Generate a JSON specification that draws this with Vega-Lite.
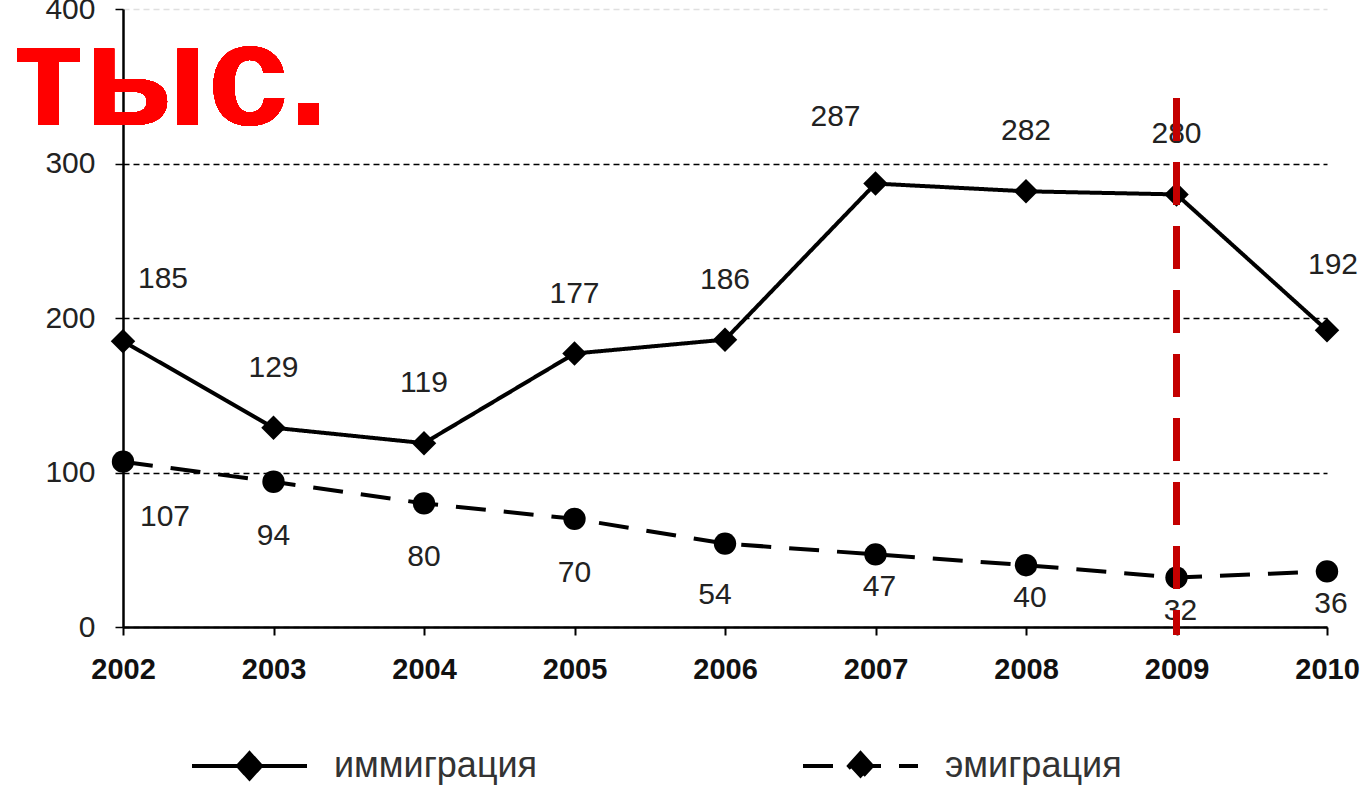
{
  "$schema": "https://vega.github.io/schema/vega-lite/v6.json",
  "width": 1204,
  "height": 618,
  "autosize": {"type": "none"},
  "padding": {"left": 123, "top": 9, "right": 33, "bottom": 158},
  "background": "white",
  "config": {"view": {"stroke": null}},
  "data": {"values": [
    {"year": 2002, "series": "иммиграция", "value": 185},
    {"year": 2003, "series": "иммиграция", "value": 129},
    {"year": 2004, "series": "иммиграция", "value": 119},
    {"year": 2005, "series": "иммиграция", "value": 177},
    {"year": 2006, "series": "иммиграция", "value": 186},
    {"year": 2007, "series": "иммиграция", "value": 287},
    {"year": 2008, "series": "иммиграция", "value": 282},
    {"year": 2009, "series": "иммиграция", "value": 280},
    {"year": 2010, "series": "иммиграция", "value": 192},
    {"year": 2002, "series": "эмиграция", "value": 107},
    {"year": 2003, "series": "эмиграция", "value": 94},
    {"year": 2004, "series": "эмиграция", "value": 80},
    {"year": 2005, "series": "эмиграция", "value": 70},
    {"year": 2006, "series": "эмиграция", "value": 54},
    {"year": 2007, "series": "эмиграция", "value": 47},
    {"year": 2008, "series": "эмиграция", "value": 40},
    {"year": 2009, "series": "эмиграция", "value": 32},
    {"year": 2010, "series": "эмиграция", "value": 36}
  ]},
  "encoding": {
    "x": {
      "field": "year", "type": "quantitative",
      "scale": {"domain": [2002, 2010], "nice": false, "zero": false},
      "axis": {
        "values": [2002, 2003, 2004, 2005, 2006, 2007, 2008, 2009, 2010],
        "format": "d", "title": null, "grid": false,
        "domainColor": "black", "domainWidth": 2.5,
        "tickColor": "black", "tickWidth": 2, "tickSize": 8,
        "labelFont": "Liberation Sans, Arial, sans-serif",
        "labelFontWeight": "bold", "labelFontSize": 29, "labelColor": "#111",
        "labelPadding": 20, "labelFlush": false
      }
    },
    "y": {
      "field": "value", "type": "quantitative",
      "scale": {"domain": [0, 400], "nice": false},
      "axis": {
        "values": [0, 100, 200, 300, 400],
        "title": null, "grid": true, "gridDash": [6, 4],
        "gridColor": {"condition": {"test": "datum.value == 400", "value": "#e0e0e0"}, "value": "black"},
        "gridWidth": 1.5,
        "domainColor": "black", "domainWidth": 2.5,
        "tickColor": "black", "tickWidth": 1.5, "tickSize": 8,
        "labelFont": "Liberation Sans, Arial, sans-serif",
        "labelFontSize": 30, "labelColor": "#222", "labelPadding": 20
      }
    }
  },
  "layer": [
    {
      "mark": {"type": "line", "color": "black", "strokeWidth": 4},
      "encoding": {
        "strokeDash": {
          "field": "series", "type": "nominal",
          "scale": {"domain": ["иммиграция", "эмиграция"], "range": [[1, 0], [30, 18]]},
          "legend": {
            "title": null, "orient": "none", "direction": "horizontal", "columns": 2,
            "legendX": 67, "legendY": 697,
            "symbolType": "M-1,0H1M0,-0.22L0.2,0L0,0.22L-0.2,0Z",
            "symbolSize": 13225, "symbolStrokeWidth": 4, "symbolStrokeColor": "black", "symbolFillColor": "black",
            "labelFont": "Liberation Sans, Arial, sans-serif",
            "labelFontSize": 36, "labelColor": "#333", "labelOffset": 25,
            "columnPadding": 257, "labelLimit": 400
          }
        }
      }
    },
    {
      "transform": [{"filter": "datum.series == 'иммиграция'"}],
      "mark": {"type": "point", "filled": true, "color": "black", "opacity": 1, "shape": "diamond", "size": 600}
    },
    {
      "transform": [{"filter": "datum.series == 'эмиграция'"}],
      "mark": {"type": "point", "filled": true, "color": "black", "opacity": 1, "shape": "circle", "size": 500}
    },
    {
      "transform": [{"filter": "datum.series == 'иммиграция' && datum.year != 2002 && datum.year != 2007 && datum.year != 2010"}],
      "mark": {"type": "text", "dy": -60, "fontSize": 30, "color": "#222", "font": "Liberation Sans, Arial, sans-serif", "baseline": "middle"},
      "encoding": {"text": {"field": "value", "type": "quantitative"}}
    },
    {
      "transform": [{"filter": "datum.series == 'иммиграция' && datum.year == 2002"}],
      "mark": {"type": "text", "dx": 40, "dy": -62, "fontSize": 30, "color": "#222", "font": "Liberation Sans, Arial, sans-serif", "baseline": "middle"},
      "encoding": {"text": {"field": "value", "type": "quantitative"}}
    },
    {
      "transform": [{"filter": "datum.series == 'иммиграция' && datum.year == 2007"}],
      "mark": {"type": "text", "dx": -40, "dy": -67, "fontSize": 30, "color": "#222", "font": "Liberation Sans, Arial, sans-serif", "baseline": "middle"},
      "encoding": {"text": {"field": "value", "type": "quantitative"}}
    },
    {
      "transform": [{"filter": "datum.series == 'иммиграция' && datum.year == 2010"}],
      "mark": {"type": "text", "dx": 6, "dy": -65, "fontSize": 30, "color": "#222", "font": "Liberation Sans, Arial, sans-serif", "baseline": "middle"},
      "encoding": {"text": {"field": "value", "type": "quantitative"}}
    },
    {
      "transform": [{"filter": "datum.series == 'эмиграция' && datum.year >= 2003 && datum.year <= 2005"}],
      "mark": {"type": "text", "dy": 54, "fontSize": 30, "color": "#222", "font": "Liberation Sans, Arial, sans-serif", "baseline": "middle"},
      "encoding": {"text": {"field": "value", "type": "quantitative"}}
    },
    {
      "transform": [{"filter": "datum.series == 'эмиграция' && datum.year == 2002"}],
      "mark": {"type": "text", "dx": 42, "dy": 55, "fontSize": 30, "color": "#222", "font": "Liberation Sans, Arial, sans-serif", "baseline": "middle"},
      "encoding": {"text": {"field": "value", "type": "quantitative"}}
    },
    {
      "transform": [{"filter": "datum.series == 'эмиграция' && datum.year == 2006"}],
      "mark": {"type": "text", "dx": -10, "dy": 51, "fontSize": 30, "color": "#222", "font": "Liberation Sans, Arial, sans-serif", "baseline": "middle"},
      "encoding": {"text": {"field": "value", "type": "quantitative"}}
    },
    {
      "transform": [{"filter": "datum.series == 'эмиграция' && datum.year >= 2007"}],
      "mark": {"type": "text", "dx": 4, "dy": 33, "fontSize": 30, "color": "#222", "font": "Liberation Sans, Arial, sans-serif", "baseline": "middle"},
      "encoding": {"text": {"field": "value", "type": "quantitative"}}
    },
    {
      "mark": {"type": "rule", "color": "#c40000", "strokeWidth": 7, "strokeDash": [42, 22]},
      "encoding": {
        "x": {"datum": 2009, "type": "quantitative"},
        "y": {"datum": 342, "type": "quantitative"},
        "y2": {"datum": -5}
      }
    },
    {
      "mark": {"type": "text", "align": "left", "baseline": "alphabetic", "dx": -110, "font": "Liberation Sans, Arial, sans-serif", "fontWeight": "bold", "fontSize": 145, "color": "#ff0000"},
      "encoding": {
        "x": {"datum": 2002, "type": "quantitative"},
        "y": {"datum": 325, "type": "quantitative"},
        "text": {"value": "тыс."}
      }
    }
  ]
}
